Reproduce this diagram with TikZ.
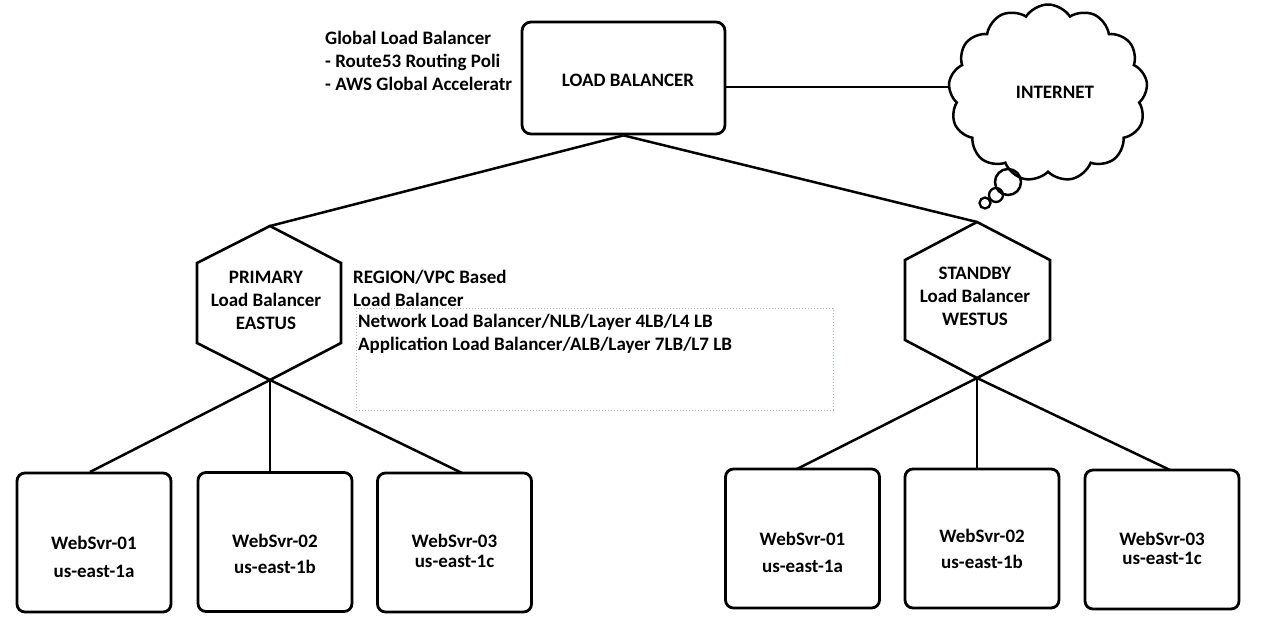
\documentclass[tikz,border=0pt]{standalone}
\usepackage{fontspec}
\setmainfont{Carlito}
\usepackage{tikz}
\usetikzlibrary{shapes.symbols,positioning,calc}

\definecolor{selgray}{RGB}{160,180,180}

\begin{document}
\begin{tikzpicture}[x=1pt,y=-1pt,
	txt/.style={font=\fontsize{19}{23}\selectfont\bfseries,inner sep=0pt},
	lbbox/.style={draw,line width=2.8pt,rounded corners=9pt,minimum width=203pt,minimum height=112pt},
	srvbox/.style={draw,line width=2.8pt,rounded corners=8pt,minimum width=154pt,minimum height=139pt},
	hexa/.style={draw,line width=2.6pt},
	conn/.style={draw,line width=2.5pt}]
	\useasboundingbox (0,0) rectangle (1280,632);

	% top level
	\node[lbbox] (lb) at (623.5,78) {};
	\node[txt] (lbtxt) at (628,80) {LOAD BALANCER};
	\node[txt,anchor=west,align=left] (glb) at (325,61) {Global Load Balancer\\- Route53 Routing Poli\\- AWS Global Acceleratr};

	\node[cloud,draw,line width=2.5pt,cloud puffs=13,cloud puff arc=115,aspect=1.1,
		minimum width=199pt,minimum height=177pt] (inet) at (1048,93) {};
	\node[txt] (inettxt) at (1055,92) {INTERNET};
	\draw[line width=2.5pt] (1008,182) circle (13);
	\draw[line width=2.3pt] (996,195) circle (7);
	\draw[line width=2.3pt] (985,203) circle (5.5);
	\coordinate (lbout) at ([yshift=-9pt]lb.east);
	\draw[conn] (lbout) -- (lbout -| inet.west);

	% region load balancers
	\coordinate (ptop) at (270,226);
	\coordinate (pbot) at (270,380);
	\draw[hexa] (ptop) -- (341,263) -- (341,343) -- (pbot) -- (197,343) -- (197,263) -- cycle;
	\node[txt,align=center] (prim) at (266,300) {PRIMARY\\Load Balancer\\EASTUS};

	\coordinate (stop) at (977,222);
	\coordinate (sbot) at (977,378);
	\draw[hexa] (stop) -- (1050,260) -- (1050,340) -- (sbot) -- (905,340) -- (905,260) -- cycle;
	\node[txt,align=center] (stby) at (975,296) {STANDBY\\Load Balancer\\WESTUS};

	\draw[conn] (lb.south) -- (ptop);
	\draw[conn] (lb.south) -- (stop);

	\node[txt,anchor=west,align=left] (regtxt) at (353,288) {REGION/VPC Based\\Load Balancer};
	\node[txt,anchor=west,align=left] (nlbtxt) at (358,334) {Network Load Balancer/NLB/Layer 4LB/L4 LB\\Application Load Balancer/ALB/Layer 7LB/L7 LB};
	\draw[selgray,dotted,line width=1pt] (356,308) rectangle (833,410);

	% web servers east
	\node[srvbox] (e1) at (94,542.5) {};
	\node[srvbox] (e2) at (275,542) {};
	\node[srvbox] (e3) at (454.5,542.5) {};
	\node[txt,align=center] at ([yshift=-14.5pt]e1.center) {WebSvr-01\\[5pt]us-east-1a};
	\node[txt,align=center] at ([yshift=-12pt]e2.center) {WebSvr-02\\[3pt]us-east-1b};
	\node[txt,align=center] at ([yshift=-8.5pt]e3.center) {WebSvr-03\\[-3pt]us-east-1c};
	\draw[conn] (pbot) -- (90,472);
	\draw[conn] (pbot) -- (pbot |- e2.north);
	\draw[conn] (pbot) -- (462,473);

	% web servers west
	\node[srvbox] (w1) at (802.5,538.5) {};
	\node[srvbox] (w2) at (982,538.5) {};
	\node[srvbox] (w3) at (1162,539.5) {};
	\node[txt,align=center] at ([yshift=-13.5pt]w1.center) {WebSvr-01\\[4pt]us-east-1a};
	\node[txt,align=center] at ([yshift=-10.5pt]w2.center) {WebSvr-02\\[3pt]us-east-1b};
	\node[txt,align=center] at ([yshift=-8.5pt]w3.center) {WebSvr-03\\[-4pt]us-east-1c};
	\draw[conn] (sbot) -- (797,469);
	\draw[conn] (sbot) -- (sbot |- w2.north);
	\draw[conn] (sbot) -- (1170,470);
\end{tikzpicture}
\end{document}
